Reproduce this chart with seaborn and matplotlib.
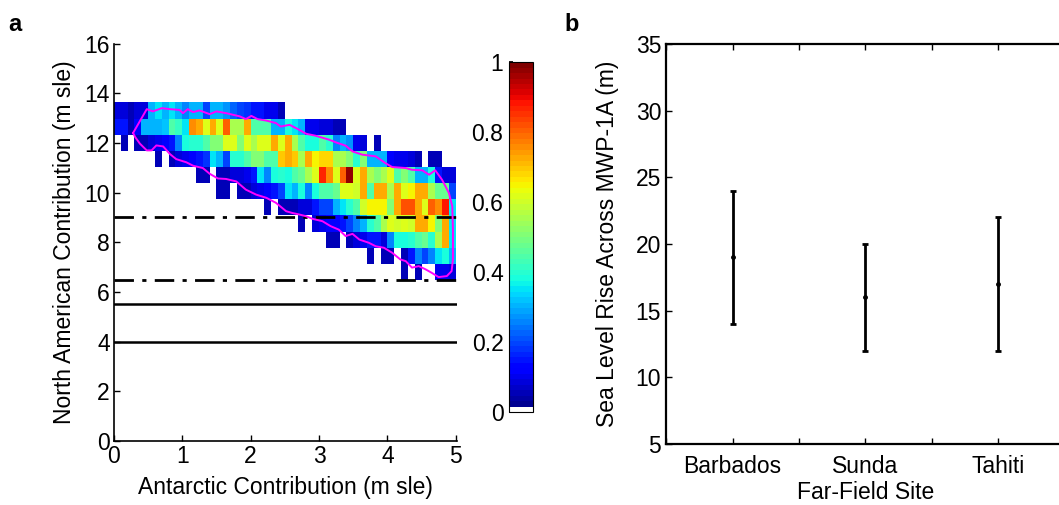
import numpy as np
import pandas as pd
import matplotlib
matplotlib.use("Agg")
import matplotlib.pyplot as plt
from matplotlib.colors import ListedColormap
from matplotlib.ticker import MultipleLocator
import seaborn as sns

_ = np.nan

# ---------------- Panel a data ----------------
ant_edges = np.linspace(0, 5, 51)          # Antarctic contribution bins (m sle)
na_edges = np.linspace(6.48, 13.63, 12)    # North American contribution bins (m sle)

# normalized density, rows listed from top (highest NA) to bottom
density_rows = [
    [0.08,0.08,0.06,0.08,0.08,0.30,0.35,0.30,0.35,0.30, 0.25,0.30,0.30,0.20,0.30,0.30,0.28,0.22,0.20,0.18,
     0.15,0.15,0.10,0.10,0.06,_,_,_,_,_, _,_,_,_,_,_,_,_,_,_, _,_,_,_,_,_,_,_,_,_],
    [0.15,0.15,0.05,0.12,0.30,0.30,0.30,0.32,0.45,0.42, 0.35,0.75,0.72,0.62,0.72,0.62,0.80,0.55,0.55,0.72,
     0.45,0.45,0.45,0.30,0.30,0.38,0.35,0.30,0.10,0.10, 0.08,0.08,0.05,0.05,_,_,_,_,_,_, _,_,_,_,_,_,_,_,_,_],
    [_,0.05,_,0.05,0.05,0.08,0.10,0.12,0.15,0.25, 0.38,0.40,0.40,0.45,0.50,0.50,0.62,0.62,0.50,0.62,
     0.55,0.62,0.62,0.72,0.62,0.72,0.55,0.45,0.38,0.38, 0.45,0.40,0.25,0.30,0.28,0.10,0.08,_,0.06,_, _,_,_,_,_,_,_,_,_,_],
    [_,_,_,_,_,_,0.05,_,0.05,0.08, 0.10,0.12,0.15,0.18,0.35,0.30,0.20,0.40,0.40,0.45,
     0.50,0.50,0.45,0.45,0.70,0.72,0.70,0.55,0.72,0.65, 0.68,0.68,0.55,0.55,0.50,0.40,0.50,0.30,0.30,0.30,
     0.12,0.10,0.10,0.08,0.05,_,0.05,0.05,_,_],
    [_,_,_,_,_,_,_,_,_,_, _,_,0.05,0.05,_,0.05,0.05,0.08,0.08,0.10,
     0.15,0.35,0.25,0.38,0.40,0.38,0.45,0.48,0.55,0.62, 0.87,0.75,0.62,0.80,0.98,0.62,0.72,0.55,0.50,0.55,
     0.62,0.45,0.50,0.45,0.30,0.30,0.38,0.15,0.08,0.08],
    [_,_,_,_,_,_,_,_,_,_, _,_,_,_,_,0.05,0.05,_,0.05,0.05,
     0.08,0.10,0.12,0.15,0.20,0.35,0.30,0.38,0.25,0.38, 0.45,0.45,0.48,0.62,0.62,0.60,0.72,0.45,0.72,0.72,
     0.55,0.72,0.62,0.65,0.72,0.72,0.55,0.48,0.48,0.20],
    [_,_,_,_,_,_,_,_,_,_, _,_,_,_,_,_,_,_,_,_,
     _,_,0.05,_,0.05,0.06,0.06,0.08,0.08,0.15, 0.20,0.20,0.30,0.35,0.40,0.45,0.60,0.65,0.65,0.65,
     0.50,0.72,0.82,0.82,0.72,0.62,0.80,0.75,0.88,0.35],
    [_,_,_,_,_,_,_,_,_,_, _,_,_,_,_,_,_,_,_,_,
     _,_,_,_,_,_,_,0.05,_,0.08, 0.10,0.12,0.12,0.15,0.20,0.25,0.30,0.40,0.45,0.55,
     0.62,0.60,0.62,0.60,0.72,0.72,0.65,0.50,0.72,0.35],
    [_,_,_,_,_,_,_,_,_,_, _,_,_,_,_,_,_,_,_,_,
     _,_,_,_,_,_,_,_,_,_, _,0.05,0.05,_,0.05,0.08,0.10,0.15,0.15,0.08,
     0.25,0.38,0.38,0.40,0.45,0.48,0.40,0.55,0.72,0.35],
    [_,_,_,_,_,_,_,_,_,_, _,_,_,_,_,_,_,_,_,_,
     _,_,_,_,_,_,_,_,_,_, _,_,_,_,_,_,_,0.05,_,0.05,
     0.05,_,0.06,0.15,0.25,0.20,0.25,0.35,0.38,0.30],
    [_,_,_,_,_,_,_,_,_,_, _,_,_,_,_,_,_,_,_,_,
     _,_,_,_,_,_,_,_,_,_, _,_,_,_,_,_,_,_,_,_,
     _,_,0.05,_,0.05,_,_,0.10,0.10,0.08],
]

# magenta contour (Antarctic, North American), m sle
contour_ant = [0.28,0.48,0.57,0.70,0.82,0.96,1.01,1.08,1.16,1.25,1.40,1.50,1.64,1.84,1.93,2.01,2.10,2.23,2.37,
               2.44,2.57,2.71,2.81,2.95,3.15,3.25,3.39,3.49,3.63,3.83,3.97,4.07,4.27,4.36,4.51,4.61,4.70,4.80,
               4.90,4.95,4.96,4.96,4.94,4.87,4.75,4.65,4.56,4.46,4.36,4.27,4.19,4.07,3.95,3.83,3.73,3.59,3.49,
               3.39,3.29,3.17,3.05,2.91,2.81,2.71,2.61,2.52,2.37,2.23,2.08,1.93,1.79,1.64,1.52,1.40,1.30,1.16,
               1.06,0.91,0.82,0.72,0.62,0.55,0.48,0.38,0.31,0.28]
contour_na = [12.40,13.36,13.27,13.40,13.36,13.33,13.20,13.36,13.24,13.31,13.16,13.27,13.20,13.07,12.96,13.09,
              12.96,12.90,12.80,12.66,12.73,12.53,12.37,12.29,12.13,12.02,11.89,11.66,11.53,11.46,11.19,11.03,
              10.99,10.92,10.90,10.72,10.90,10.52,9.99,9.45,8.51,7.31,6.84,6.64,6.60,6.77,6.91,7.04,6.98,7.24,
              7.31,7.58,7.78,7.84,7.98,8.11,8.34,8.25,8.51,8.65,8.85,8.94,9.05,9.12,9.18,9.25,9.59,9.79,9.92,
              10.12,10.45,10.55,10.57,10.76,10.99,11.08,11.22,11.35,11.55,11.86,11.90,11.70,11.70,11.97,12.24,12.40]

dashdot_levels = [9.0, 6.5]
solid_levels = [5.5, 4.0]

# ---------------- Panel b data ----------------
sites = ["Barbados", "Sunda", "Tahiti"]
rise_mid = [19, 16, 17]
rise_low = [14, 12, 12]
rise_high = [24, 20, 22]

# ---------------- style ----------------
sns.set_theme(style="ticks")
plt.rcParams["font.family"] = ["Liberation Sans", "DejaVu Sans"]
plt.rcParams["xtick.direction"] = "in"
plt.rcParams["ytick.direction"] = "in"
plt.rcParams["axes.linewidth"] = 1.2
plt.rcParams["axes.labelcolor"] = "black"
plt.rcParams["text.color"] = "black"
plt.rcParams["xtick.color"] = "black"
plt.rcParams["ytick.color"] = "black"
plt.rcParams["axes.edgecolor"] = "black"
FS = 16.5

fig = plt.figure(figsize=(10.59, 5.05), dpi=100)
ax = fig.add_axes([0.1076, 0.1267, 0.324, 0.787])
cax = fig.add_axes([0.4806, 0.184, 0.0227, 0.693])
bx = fig.add_axes([0.629, 0.121, 0.3763, 0.792])

# long-form table for the 2D histogram
recs = []
nrows = len(density_rows)
for r, row in enumerate(density_rows):
    yi = nrows - 1 - r
    yc = 0.5 * (na_edges[yi] + na_edges[yi + 1])
    for c, v in enumerate(row):
        if not np.isnan(v):
            recs.append((0.5 * (ant_edges[c] + ant_edges[c + 1]), yc, v))
df = pd.DataFrame(recs, columns=["ant", "na", "val"])

jet = plt.get_cmap("jet", 64)(np.arange(64))
jet[0] = [1, 1, 1, 1]
cmap = ListedColormap(jet)

sns.histplot(data=df, x="ant", y="na", weights="val", bins=[ant_edges, na_edges],
             cmap=cmap, vmin=0, vmax=1, cbar=True, cbar_ax=cax, ax=ax)

for lv in dashdot_levels:
    ax.axhline(lv, xmin=0, xmax=1, color="black", lw=2, ls=(0, (7, 3, 1.5, 3)))
for lv in solid_levels:
    ax.axhline(lv, color="black", lw=1.8)

sns.lineplot(x=contour_ant, y=contour_na, sort=False, estimator=None, color="#ff00ff", lw=1.4, ax=ax)

ax.set_xlim(0, 5.02)
ax.set_ylim(0, 16)
ax.set_xticks(range(0, 6))
ax.set_yticks(range(0, 17, 2))
ax.tick_params(labelsize=FS, length=4, width=1, colors="black", pad=3)
ax.set_xlabel("Antarctic Contribution (m sle)", fontsize=FS, color="black")
ax.set_ylabel("North American Contribution (m sle)", fontsize=FS, color="black")
ax.xaxis.set_label_coords(0.5, -0.088)
ax.yaxis.set_label_coords(-0.111, 0.5)
for s in ["top", "right"]:
    ax.spines[s].set_visible(False)
for s in ["left", "bottom"]:
    ax.spines[s].set_color("black")

cax.yaxis.set_ticks_position("left")
cax.yaxis.set_label_position("left")
cax.set_yticks([0, 0.2, 0.4, 0.6, 0.8, 1.0])
cax.set_yticklabels(["0", "0.2", "0.4", "0.6", "0.8", "1"])
cax.tick_params(labelsize=FS, direction="in", length=3, colors="black", pad=4)
for s in cax.spines.values():
    s.set_linewidth(0.8)
    s.set_color("black")

# ---------------- Panel b ----------------
xpos = np.arange(1, len(sites) + 1)
mid = np.array(rise_mid)
yerr = [mid - np.array(rise_low), np.array(rise_high) - mid]
bx.errorbar(xpos, mid, yerr=yerr, fmt="o", ms=2.5, color="black", ecolor="black",
            elinewidth=2, capsize=2.5, capthick=2)
bx.set_xlim(0.5, 3.5)
bx.set_ylim(5, 35)
bx.set_xticks(xpos)
bx.set_xticklabels(sites)
bx.xaxis.set_minor_locator(MultipleLocator(0.5))
bx.set_yticks(range(5, 36, 5))
bx.tick_params(which="both", top=True, right=True, length=4, width=1, labelsize=FS, colors="black")
bx.tick_params(axis="x", which="major", pad=8)
bx.set_xlabel("Far-Field Site", fontsize=FS, color="black")
bx.set_ylabel("Sea Level Rise Across MWP-1A (m)", fontsize=FS, color="black")
bx.xaxis.set_label_coords(0.5, -0.0925)
bx.yaxis.set_label_coords(-0.118, 0.5)
for s in bx.spines.values():
    s.set_color("black")
    s.set_linewidth(1.6)

fig.text(0.008, 0.975, "a", fontsize=17, fontweight="bold", va="top", color="black")
fig.text(0.533, 0.975, "b", fontsize=17, fontweight="bold", va="top", color="black")

fig.savefig("out.png", dpi=100)
